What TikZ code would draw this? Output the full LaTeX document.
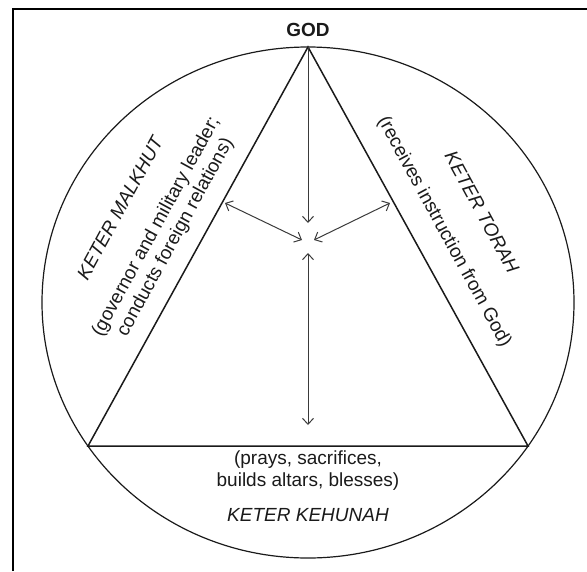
\documentclass[tikz,border=0pt]{standalone}
\usepackage{fontspec}
\setmainfont{Liberation Sans}
\usetikzlibrary{arrows.meta}
\definecolor{ktInk}{HTML}{1A1A1A}
\definecolor{ktArrow}{HTML}{3A3A3A}
\tikzset{
  frame/.style={line width=2.4pt, draw=black},
  ring/.style={line width=1.2pt, draw=ktInk},
  tri/.style={line width=1.5pt, draw=ktInk},
  arr/.style={{Straight Barb[length=6pt,width=11pt]}-{Straight Barb[length=6pt,width=11pt]}, line width=1pt, draw=ktArrow},
  arrin/.style={-{Straight Barb[length=6pt,width=11pt]}, line width=1pt, draw=ktArrow},
  lbl/.style={font=\fontsize{19}{22}\selectfont, text=ktInk, align=center, inner sep=0pt},
  crown/.style={lbl, font=\fontsize{19}{22}\selectfont\itshape}
}
\begin{document}
\begin{tikzpicture}[x=1pt,y=-1pt]
  \useasboundingbox (0,0) rectangle (587,571);
  \draw[frame] (13,571) -- (13,9) -- (587,9);
  \draw[ring] (308,302.5) ellipse [x radius=266, y radius=255.5];
  \coordinate (top) at (308,47);
  \coordinate (bl) at (88,446);
  \coordinate (br) at (528,446);
  \draw[tri] (top) -- (bl) -- (br) -- cycle;
  \node[lbl, font=\fontsize{19}{22}\selectfont\bfseries, anchor=base] (god) at (308,36) {GOD};
  \coordinate (dn) at (308,223);
  \coordinate (lt) at (225,203);
  \coordinate (lc) at (302,240);
  \coordinate (rt) at (390,203);
  \coordinate (rc) at (314,240);
  \coordinate (up) at (308,253);
  \coordinate (bt) at (308,425);
  \draw[arrin] (top) -- (dn);
  \draw[arr] (lt) -- (lc);
  \draw[arr] (rt) -- (rc);
  \draw[arr] (up) -- (bt);
  \node[crown, rotate=61.4] (malkhut) at (120,208) {KETER MALKHUT};
  \node[lbl, rotate=61.4] (malkhutrole) at (166,232) {(governor and military leader;\\conducts foreign relations)};
  \node[crown, rotate=-61.4] (torah) at (482,212) {KETER TORAH};
  \node[lbl, rotate=-61.4] (torahrole) at (444,232) {(receives instruction from God)};
  \node[lbl] (rite) at (308,471) {(prays, sacrifices,\\builds altars, blesses)};
  \node[crown] (kehunah) at (308,515) {KETER KEHUNAH};
\end{tikzpicture}
\end{document}
